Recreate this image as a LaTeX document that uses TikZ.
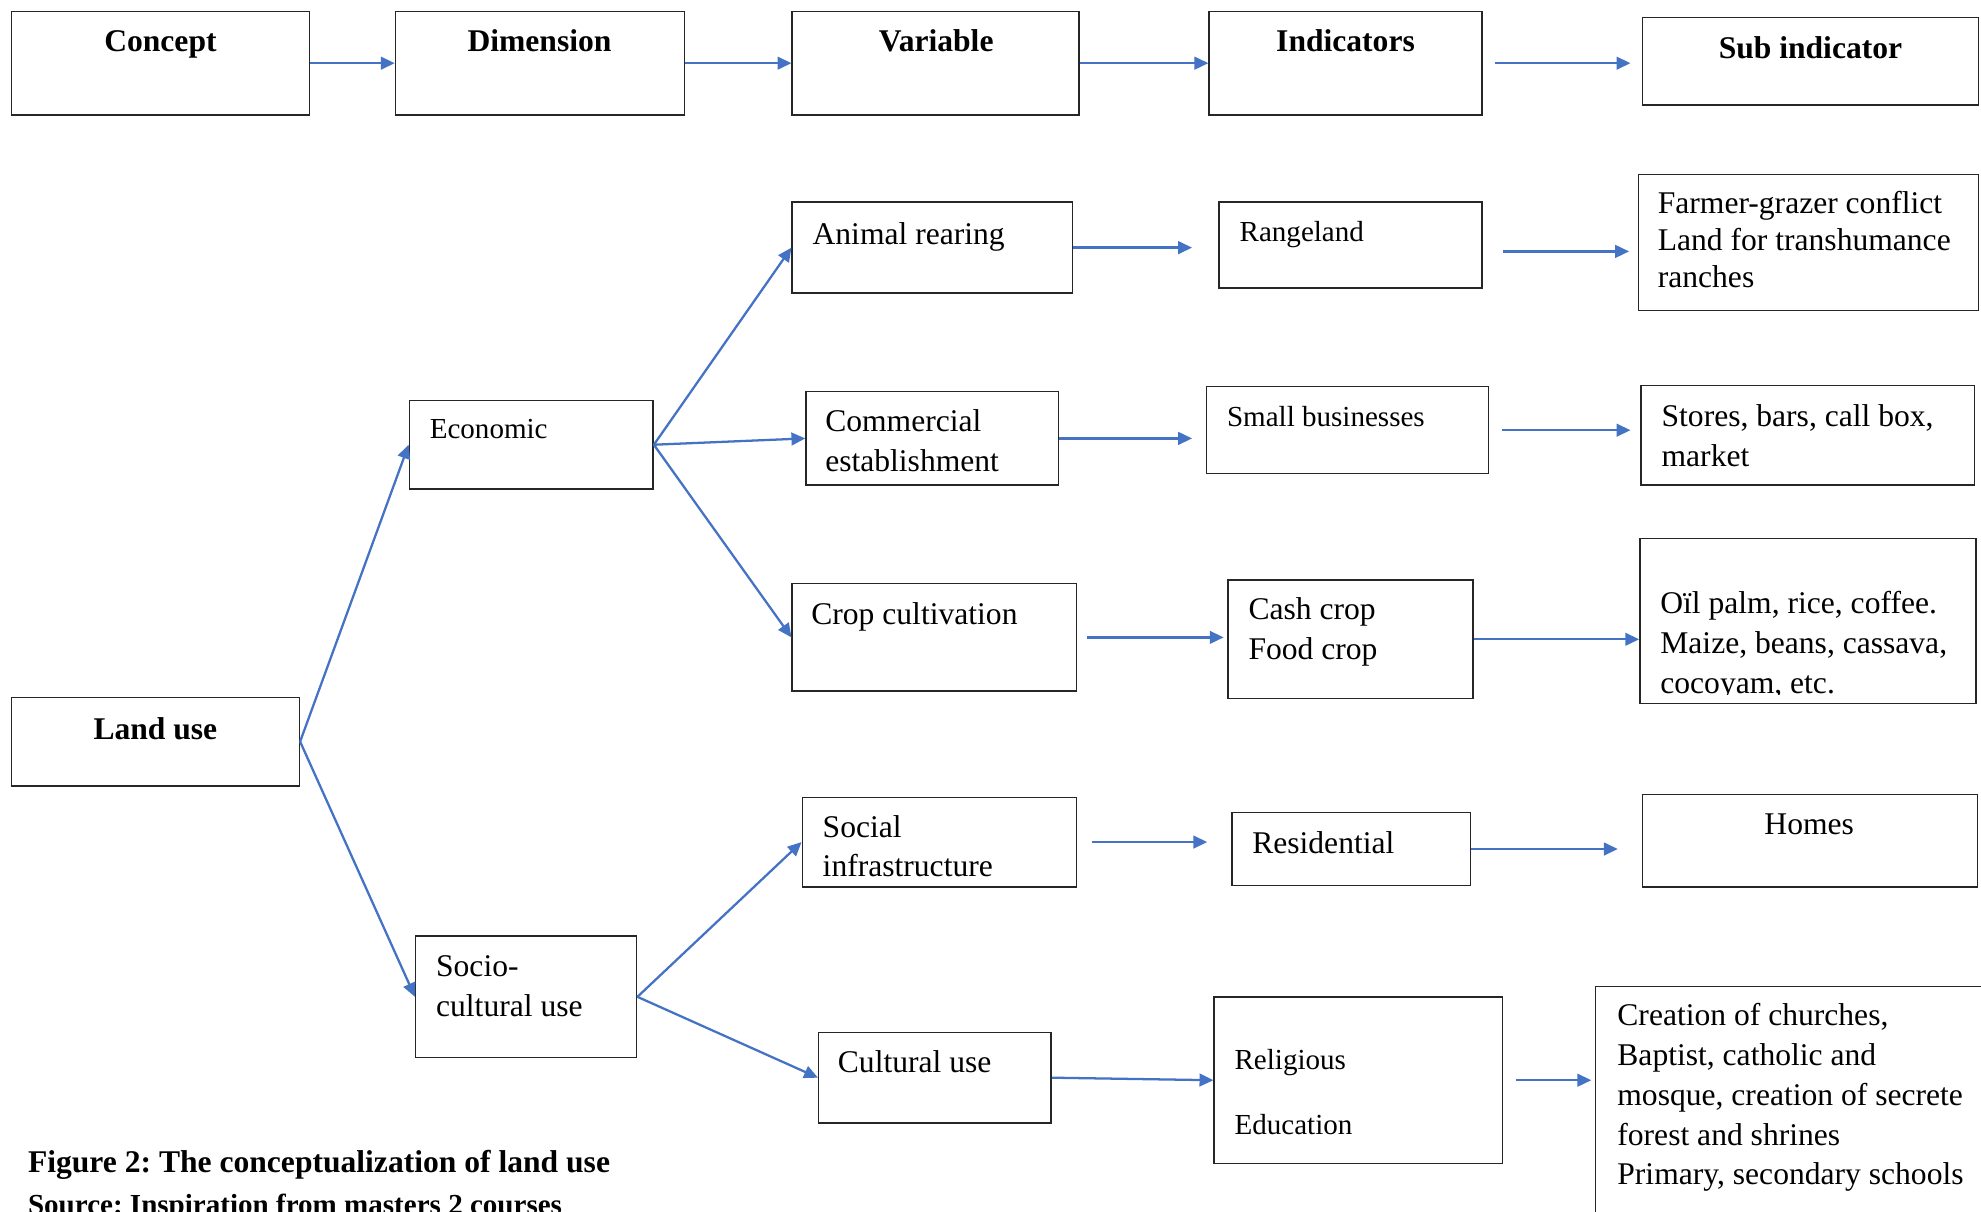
\documentclass[tikz,border=0pt]{standalone}
\usepackage{fontspec}
\setmainfont{Liberation Serif}
\usetikzlibrary{arrows.meta,fit,calc}
\definecolor{linkblue}{HTML}{4472C4}
\newcommand\bodyfont{\fontsize{25}{31.5}\selectfont}
\newcommand\smallbodyfont{\fontsize{23}{26}\selectfont}
\newcommand\headfont{\fontsize{25}{30}\selectfont\bfseries}
\frenchspacing
\begin{document}
\begin{tikzpicture}[x=1pt,y=-1pt,
  box/.style={draw=black!85, line width=1.1pt, inner sep=0pt},
  arr/.style={draw=linkblue, line width=1.8pt, -{Triangle[length=11pt,width=10pt]}},
  head/.style={font=\headfont, anchor=base, inner sep=0pt},
  txt/.style={font=\bodyfont, anchor=north west, inner sep=0pt, align=left,
    execute at begin node={\rule{0pt}{22pt}}, yshift=22pt},
  stxt/.style={font=\smallbodyfont, anchor=north west, inner sep=0pt, align=left,
    execute at begin node={\rule{0pt}{18pt}}, yshift=18pt},
]
\useasboundingbox (0,0) rectangle (1568,959);

% ---- header row ----
\node[box, fit={(9,9)(245,91)}] (concept) {};
\node[box, fit={(313,9)(542,91)}] (dim) {};
\node[box, fit={(627,9)(854,91)}] (var) {};
\node[box, fit={(957,9)(1173,91)}] (ind) {};
\node[box, fit={(1300,14)(1566,83)}] (sub) {};
\node[head] (conceptT) at (127,41) {Concept};
\node[head] (dimT) at (427,41) {Dimension};
\node[head] (varT) at (741,41) {Variable};
\node[head] (indT) at (1065,41) {Indicators};
\node[head] (subT) at (1433,46) {Sub indicator};

\draw[arr] (concept) -- (dim);
\draw[arr] (dim) -- (var);
\draw[arr] (var) -- (ind);
\draw[arr] ($(ind.east)+(10,0)$) -- ($(ind.east)+(117,0)$);

% ---- concept and dimensions ----
\node[box, fit={(9,552)(237,622)}] (land) {};
\node[head] (landT) at (123,585) {Land use};
\node[box, fit={(324,317)(517,387)}] (econ) {};
\node[stxt] (econT) at (340,347) {Economic};
\node[box, fit={(329,741)(504,837)}] (socio) {};
\node[txt] (socioT) at (345,778) {Socio-\\cultural use};

\draw[arr] (land.east) -- (econ.west);
\draw[arr] (land.east) -- (socio.west);

% ---- economic branch ----
\node[box, fit={(627,160)(849,232)}] (ar) {};
\node[txt] (arT) at (643,193) {Animal rearing};
\node[box, fit={(638,310)(838,384)}] (com) {};
\node[txt] (comT) at (653,346) {Commercial\\establishment};
\node[box, fit={(627,462)(852,547)}] (crop) {};
\node[txt] (cropT) at (642,494) {Crop cultivation};

\draw[arr] (econ.east) -- (ar.west);
\draw[arr] (econ.east) -- (com.west);
\draw[arr] (econ.east) -- (crop.west);

\node[box, fit={(965,160)(1173,228)}] (range) {};
\node[stxt] (rangeT) at (981,191) {Rangeland};
\node[box, fit={(955,306)(1178,375)}] (small) {};
\node[stxt] (smallT) at (971,337) {Small businesses};
\node[box, fit={(972,459)(1166,553)}] (cash) {};
\node[txt] (cashT) at (988,495) {Cash crop\\Food crop};

\draw[arr] (ar.east) -- ++(94,0);
\draw[arr] (com.east) -- ++(105,0);
\draw[arr] ($(crop.east)+(8,0)$) -- ++(108,0);

\node[box, fit={(1297,138)(1566,246)}] (farm) {};
\node[txt, font=\fontsize{25}{29.5}\selectfont] (farmT) at (1312,173)
  {Farmer-grazer conflict\\Land for transhumance\\ranches};
\node[box, fit={(1299,305)(1563,384)}] (stores) {};
\node[txt] (storesT) at (1315,342) {Stores, bars, call box,\\market};
\node[box, fit={(1298,426)(1564,557)}] (oil) {};
\begin{scope}
  \clip (1298,426) rectangle (1564,550);
  \node[txt] (oilT) at (1314,490) {Oïl palm, rice, coffee.\\Maize, beans, cassava,\\cocoyam, etc.};
\end{scope}

\draw[arr] ($(range.east)+(16,5)$) -- ($(farm.west)+(-7,7)$);
\draw[arr] ($(small.east)+(10,0)$) -- ++(102,0);
\draw[arr] (cash.east) -- (cash.east -| oil.west);

% ---- socio-cultural branch ----
\node[box, fit={(635,631)(852,702)}] (social) {};
\node[txt] (socialT) at (651,667) {Social\\infrastructure};
\node[box, fit={(648,817)(832,889)}] (cult) {};
\node[txt] (cultT) at (663,849) {Cultural use};

\draw[arr] (socio.east) -- (social.west);
\draw[arr] (socio.east) -- (cult.west);

\node[box, fit={(975,643)(1164,701)}] (res) {};
\node[txt] (resT) at (991,675) {Residential};
\node[box, fit={(961,789)(1189,921)}] (rel) {};
\node[stxt] (relT) at (977,848) {Religious\\[26pt]Education};

\draw[arr] ($(social.east)+(12,0)$) -- ++(91,0);
\draw[arr] (cult.east) -- (rel.west);

\node[box, fit={(1300,629)(1565,702)}] (homes) {};
\node[txt, anchor=north] (homesT) at (1432,660) {Homes};
\node[box, fit={(1263,781)(1580,975)}] (creation) {};
\node[txt] (creationT) at (1280,816)
  {Creation of churches,\\Baptist, catholic and\\mosque, creation of secrete\\forest and shrines\\Primary, secondary schools};

\draw[arr] (res.east) -- ++(116,0);
\draw[arr] ($(rel.east)+(10,0)$) -- ($(rel.east)+(70,0)$);

% ---- caption ----
\node[font=\fontsize{25}{30}\selectfont\bfseries, anchor=base west, inner sep=0pt] (caption)
  at (22,928) {Figure 2: The conceptualization of land use};
\node[font=\fontsize{23}{28}\selectfont\bfseries, anchor=base west, inner sep=0pt] (source)
  at (22,961) {Source: Inspiration from masters 2 courses};
\end{tikzpicture}
\end{document}
